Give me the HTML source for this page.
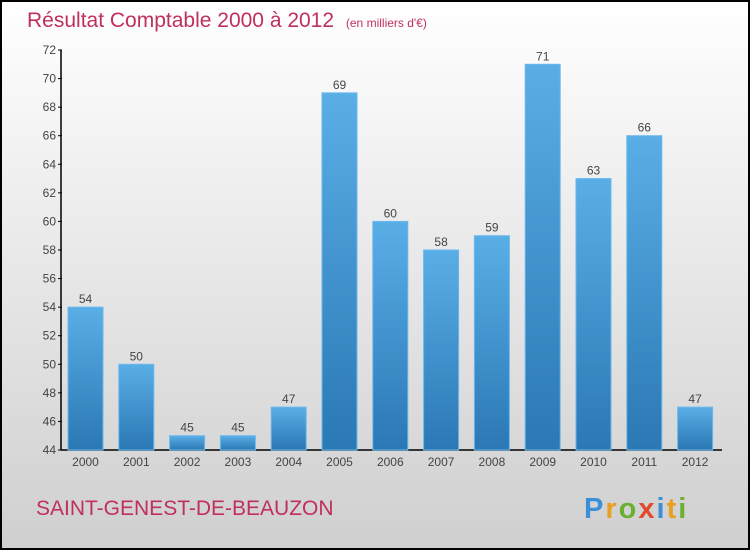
<!DOCTYPE html>
<html><head><meta charset="utf-8"><style>
body{margin:0;width:750px;height:550px;overflow:hidden}
svg{display:block;font-family:"Liberation Sans",sans-serif}
</style></head><body>
<svg width="750" height="550" viewBox="0 0 750 550">
<defs>
<linearGradient id="bg" x1="0" y1="0" x2="0" y2="1"><stop offset="0" stop-color="#ffffff"/><stop offset="1" stop-color="#cfcfcf"/></linearGradient>
<linearGradient id="bar" x1="0" y1="0" x2="0" y2="1"><stop offset="0" stop-color="#5aaee6"/><stop offset="1" stop-color="#2a78b4"/></linearGradient>
</defs>
<rect x="1" y="1" width="748" height="548" fill="url(#bg)" stroke="#000" stroke-width="2"/>
<text x="27" y="27" font-size="21" fill="#c0305c">Résultat Comptable 2000 à 2012 <tspan font-size="12" dx="6">(en milliers d'€)</tspan></text>
<g id="axes"></g>
<g id="bars"></g>
<text x="36" y="515" font-size="21" fill="#c0305c">SAINT-GENEST-DE-BEAUZON</text>
<text x="584" y="518" font-size="29" font-weight="bold" letter-spacing="2"><tspan fill="#3a8fd6">P</tspan><tspan fill="#e8a020">r</tspan><tspan fill="#6bb030">o</tspan><tspan fill="#e24a2a">x</tspan><tspan fill="#3a8fd6">i</tspan><tspan fill="#e8a020">t</tspan><tspan fill="#6bb030">i</tspan></text>
</svg>
<script>
const categories=["2000","2001","2002","2003","2004","2005","2006","2007","2008","2009","2010","2011","2012"];
const values=[54,50,45,45,47,69,60,58,59,71,63,66,47];
const yTicks=[44,46,48,50,52,54,56,58,60,62,64,66,68,70,72];
const NS="http://www.w3.org/2000/svg";
const y0=450,y1=50,vmin=44,vmax=72,xStart=85.5,step=50.8,bw=35;
const y=v=>y0-(v-vmin)/(vmax-vmin)*(y0-y1);
const x=i=>xStart+i*step;
function mk(t,a,p){const e=document.createElementNS(NS,t);for(const k in a)e.setAttribute(k,a[k]);p.appendChild(e);return e;}
const ax=document.getElementById('axes'),bs=document.getElementById('bars');
const yl=mk('line',{x1:61,y1:y1,x2:61,y2:y0,stroke:'#000','stroke-width':1.5},ax);


const xl=mk('line',{x1:61,y1:y0,x2:722,y2:y0,stroke:'#000','stroke-width':1.5},ax);


yTicks.forEach(v=>{
 mk('line',{x1:58,x2:62,y1:y(v),y2:y(v),stroke:'#000'},ax);
 const t=mk('text',{x:56,y:y(v)+4,'text-anchor':'end','font-size':12,fill:'#444'},ax);t.textContent=v;
 
 
});
categories.forEach((c,i)=>{
 const r=mk('rect',{x:x(i)-bw/2,y:y(values[i]),width:bw,height:y0-y(values[i]),fill:'url(#bar)',stroke:'#6ab8ee','stroke-width':1},bs);
 
 
 const l=mk('text',{x:x(i),y:y(values[i])-4,'text-anchor':'middle','font-size':12,fill:'#444'},bs);l.textContent=values[i];
 
 
 const t=mk('text',{x:x(i),y:466,'text-anchor':'middle','font-size':12,fill:'#444'},ax);t.textContent=c;
 
 
});
</script>
</body></html>
